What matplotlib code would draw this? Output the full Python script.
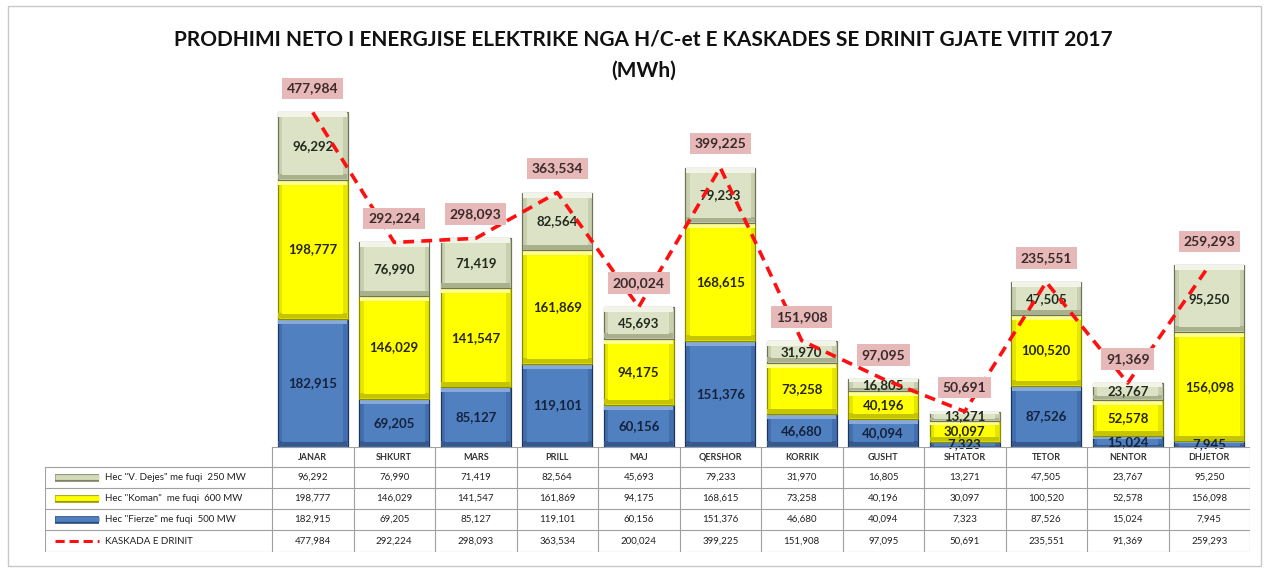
import matplotlib
matplotlib.use('Agg')
import matplotlib.pyplot as plt
from matplotlib.patches import Rectangle

months = ['JANAR', 'SHKURT', 'MARS', 'PRILL', 'MAJ', 'QERSHOR', 'KORRIK',
          'GUSHT', 'SHTATOR', 'TETOR', 'NENTOR', 'DHJETOR']
fierze = [182915, 69205, 85127, 119101, 60156, 151376, 46680, 40094, 7323, 87526, 15024, 7945]
koman = [198777, 146029, 141547, 161869, 94175, 168615, 73258, 40196, 30097, 100520, 52578, 156098]
vdejes = [96292, 76990, 71419, 82564, 45693, 79233, 31970, 16805, 13271, 47505, 23767, 95250]
total = [477984, 292224, 298093, 363534, 200024, 399225, 151908, 97095, 50691, 235551, 91369, 259293]
row_labels = ['Hec "V. Dejes" me fuqi  250 MW', 'Hec "Koman"  me fuqi  600 MW',
              'Hec "Fierze" me fuqi  500 MW', 'KASKADA E DRINIT']
title_1 = 'PRODHIMI NETO I ENERGJISE ELEKTRIKE NGA H/C-et E KASKADES SE DRINIT GJATE VITIT 2017'
title_2 = '(MWh)'

FONT = 'Lato'
W, H = 1267, 572
fig = plt.figure(figsize=(W / 100, H / 100), dpi=100)
fig.patch.set_facecolor('white')
fig.add_artist(Rectangle((8 / W, 6 / H), (W - 14) / W, (H - 12) / H, transform=fig.transFigure,
                         fill=False, edgecolor='#c8c8c8', linewidth=1))

# ---------------- bar axes ----------------
px_left, px_right, px_bottom, px_top = 272, 1250, 447, 97
ax = fig.add_axes([px_left / W, (H - px_bottom) / H, (px_right - px_left) / W, (px_bottom - px_top) / H])
ax.set_xlim(-0.5, 11.5)
ax.set_ylim(0, 500000)
ax.axis('off')
x = list(range(len(months)))
bw = 0.86
dx = 0.055
unit_per_px = 500000 / (px_bottom - px_top)

# (values, face, side, top-light, bottom-dark, outline, text colour)
styles = [
    (fierze, '#5080C0', '#426FAE', '#86A9DA', '#35598E', '#1E3558', '#14233d'),
    (koman, '#FFFF00', '#E6E600', '#FFFF8C', '#C4C400', '#8C8C00', '#262610'),
    (vdejes, '#DCE2C6', '#C8CFAE', '#F2F4E8', '#A9B08C', '#6E735A', '#222a1c'),
]
bottoms = [0] * len(months)
for vals, face, side, light, dark, edge, tcol in styles:
    for i, v in enumerate(vals):
        b = bottoms[i]
        dy = min(5 * unit_per_px, v * 0.22)
        ax.bar(i, v, width=bw, bottom=b, color=side, edgecolor=edge, linewidth=0.9)
        ax.bar(i, dy, width=bw - 0.01, bottom=b + v - dy, color=light, linewidth=0)
        ax.bar(i, dy, width=bw - 0.01, bottom=b + 0.002 * 500000, color=dark, linewidth=0)
        ax.bar(i, max(v - 2 * dy, 0), width=bw - 2 * dx, bottom=b + dy, color=face, linewidth=0)
        ax.text(i, b + v / 2, f'{v:,}', ha='center', va='center', fontsize=9.5,
                fontweight='bold', color=tcol, family=FONT)
        bottoms[i] = b + v

ax.plot(x, total, color='#FF1010', linestyle=(0, (3, 2)), linewidth=2.6, zorder=5)
for i, t in enumerate(total):
    ax.text(i, t + 24 * unit_per_px, f'{t:,}', ha='center', va='center', fontsize=10,
            fontweight='bold', color='#3b2a2a', family=FONT, zorder=6,
            bbox=dict(boxstyle='square,pad=0.35', facecolor='#E6B9B8', edgecolor='none'))

fig.text(0.508, 1 - 40 / H, title_1, ha='center', va='center', fontsize=15,
         fontweight='bold', family=FONT, color='#111111')
fig.text(0.508, 1 - 71 / H, title_2, ha='center', va='center', fontsize=15,
         fontweight='bold', family=FONT, color='#111111')

# ---------------- table axes ----------------
t_left, t_right, t_top, t_bottom = 45, 1250, 447, 552
col_w = (px_right - px_left) / 12
lab_w = (px_left - t_left) / col_w
tax = fig.add_axes([t_left / W, (H - t_bottom) / H, (t_right - t_left) / W, (t_bottom - t_top) / H])
tax.set_xlim(-0.5 - lab_w, 11.5)
tax.set_ylim(t_bottom - t_top, 0)
tax.axis('off')
rows_y = [0, 20, 41, 62, 83, 105]
lc = '#a0a0a0'
tax.plot([-0.5, 11.5], [0, 0], color=lc, lw=0.8)
for yy in rows_y[1:]:
    tax.plot([-0.5 - lab_w, 11.5], [yy, yy], color=lc, lw=0.8)
for k in range(13):
    tax.plot([k - 0.5, k - 0.5], [0, 105], color=lc, lw=0.8)
tax.plot([-0.5 - lab_w, -0.5 - lab_w], [20, 105], color=lc, lw=0.8)

for i, m in enumerate(months):
    tax.text(i, 10, m, ha='center', va='center', fontsize=6.5, fontweight='bold',
             color='#333333', family=FONT)
table_vals = [vdejes, koman, fierze, total]
for r, vals in enumerate(table_vals):
    yc = (rows_y[r + 1] + rows_y[r + 2]) / 2
    for i, v in enumerate(vals):
        tax.text(i, yc, f'{v:,}', ha='center', va='center', fontsize=7, color='#222222', family=FONT)
    tax.text(-0.5 - lab_w + 60 / col_w, yc, row_labels[r], ha='left', va='center', fontsize=7,
             color='#222222', family=FONT)

sample_x = [-0.5 - lab_w + 10 / col_w, -0.5 - lab_w + 54 / col_w]
sample_cols = ['#D4DBB8', '#FFFF00', '#4F7FC0']
sample_edge = ['#7d8466', '#9a9a00', '#2A4A78']
for r in range(3):
    yc = (rows_y[r + 1] + rows_y[r + 2]) / 2
    tax.plot(sample_x, [yc, yc], color=sample_edge[r], lw=5.5, solid_capstyle='butt')
    tax.plot(sample_x, [yc - 0.6, yc - 0.6], color=sample_cols[r], lw=3.5, solid_capstyle='butt')
yc = (rows_y[4] + rows_y[5]) / 2
tax.plot(sample_x, [yc, yc], color='#FF1010', lw=2.2, linestyle=(0, (3, 1.6)))

fig.savefig('out.png', dpi=100)
